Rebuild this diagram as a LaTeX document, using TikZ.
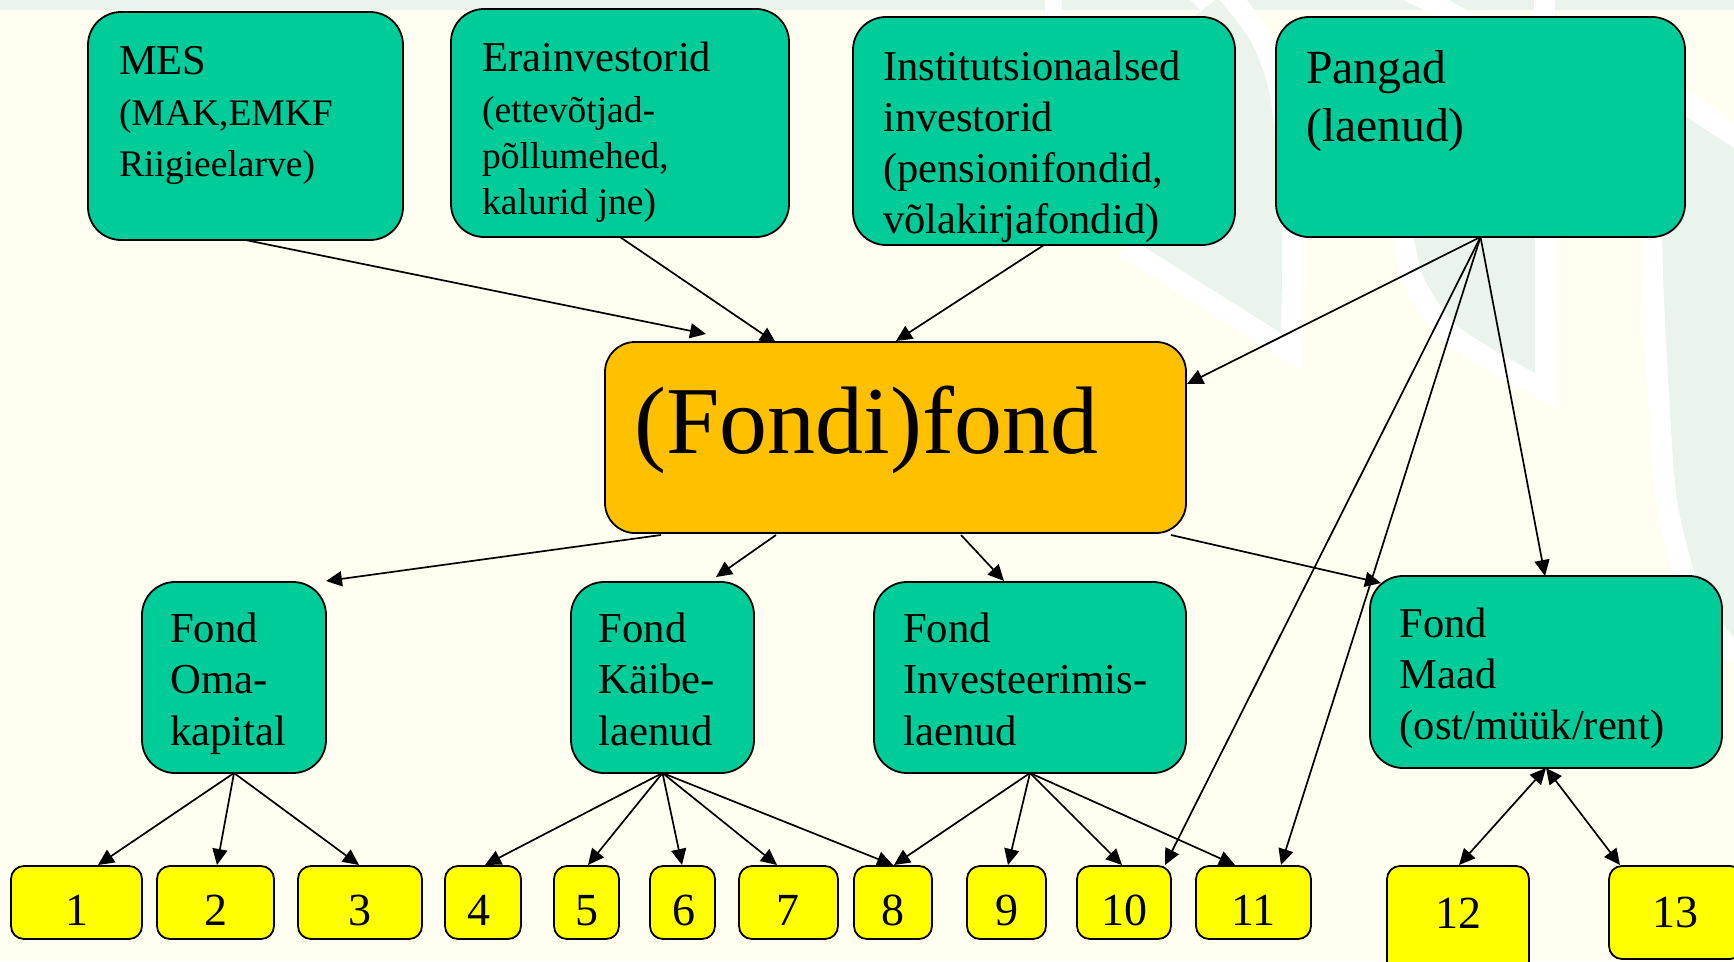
\documentclass[tikz,border=0pt]{standalone}
\usepackage{fontspec}
\setmainfont{Liberation Serif}
\usetikzlibrary{arrows.meta}
\definecolor{bgcream}{HTML}{FFFEF0}
\definecolor{wmgreen}{HTML}{EAF4EC}
\definecolor{boxteal}{HTML}{00CC99}
\definecolor{boxorange}{HTML}{FFC000}
\definecolor{boxyellow}{HTML}{FFFF00}
\newcommand{\fsz}[2]{\fontsize{#1}{#2}\selectfont}
\newcommand{\rl}{\rule{0pt}{0.75em}}
\tikzset{
  base box/.style={draw=black,line width=1.8pt,inner sep=0pt,outer sep=0pt},
  tealbox/.style={base box,fill=boxteal,rounded corners=33pt},
  orangebox/.style={base box,fill=boxorange,rounded corners=30pt},
  yellowbox/.style={base box,fill=boxyellow,rounded corners=13pt,minimum height=73pt,text height=46pt,text depth=0pt,font=\fsz{46}{50}},
  txt/.style={anchor=north west,inner sep=0pt,align=left},
  conn/.style={line width=1.7pt,-{Triangle[length=16pt,width=15pt]}},
  dconn/.style={line width=1.7pt,{Triangle[length=16pt,width=15pt]}-{Triangle[length=16pt,width=15pt]}},
  wmline/.style={draw=white,line width=42pt,line join=miter,miter limit=10},
  wmfill/.style={fill=wmgreen,draw=none}
}
\begin{document}
\begin{tikzpicture}[x=1pt,y=-1pt]
\path[use as bounding box] (0,0) rectangle (1734,961);
\begin{scope}
\clip (0,0) rectangle (1734,961);
% background and watermark
\fill[bgcream] (0,0) rectangle (1734,961);
\fill[wmgreen] (0,0) rectangle (1734,10);
\fill[white] (1045,0) rectangle (1062,17);
\fill[white] (1534,0) rectangle (1555,17);
\fill[white] (1403,0) -- (1449,0) -- (1478,17) -- (1438,17) -- cycle;
% left leaf
\draw[wmline] (1130,238) -- (1281,333) -- plot[smooth] coordinates {(1281,333) (1282,220) (1275,133) (1267,83) (1250,40) (1218,-2)} -- (1200,-20);
\fill[wmfill] (1130,238) -- (1281,333) -- plot[smooth] coordinates {(1281,333) (1282,220) (1275,133) (1267,83) (1250,40) (1218,-2)} -- (1190,20) -- cycle;
% middle leaf
\draw[wmline] (1535,100) -- (1535,373) -- plot[smooth] coordinates {(1535,373) (1459,327) (1425,280) (1414,238) (1408,200)};
\fill[wmfill] (1535,100) -- (1535,373) -- plot[smooth] coordinates {(1535,373) (1459,327) (1425,280) (1414,238) (1408,200)} -- cycle;
% right leaf
\draw[wmline] (1640,83) -- (1760,165);
\draw[wmline] plot[smooth] coordinates {(1660,100) (1662,230) (1664,300) (1671,430) (1677,500) (1690,557) (1705,600) (1745,650)};
\fill[wmfill] (1660,100) -- (1760,165) -- (1760,650) -- plot[smooth] coordinates {(1745,650) (1705,600) (1690,557) (1677,500) (1671,430) (1664,300) (1662,230) (1660,100)} -- cycle;
% top boxes
\node[tealbox,minimum width=315pt,minimum height=228pt] (mes) at (245.5,126) {};
\node[tealbox,minimum width=338pt,minimum height=228pt] (erain) at (620,123) {};
\node[tealbox,minimum width=382pt,minimum height=228pt] (inst) at (1044,131) {};
\node[tealbox,minimum width=409pt,minimum height=220pt] (pangad) at (1480.5,127) {};
\node[txt,font=\fsz{37.5}{51}] (mesT) at (119,42.25) {{\fsz{42.5}{51}\rl MES}\\(MAK,EMKF\\Riigieelarve)};
\node[txt,font=\fsz{37.5}{46}] (erainT) at (482,39.5) {{\fsz{42.5}{46}\rl Erainvestorid}\\[5pt](ettevõtjad-\\põllumehed,\\kalurid jne)};
\node[txt,font=\fsz{42.5}{51}] (instT) at (883,48.5) {\rl Institutsionaalsed\\investorid\\(pensionifondid,\\võlakirjafondid)};
\node[txt,font=\fsz{47.6}{58}] (pangadT) at (1306,48) {\rl Pangad\\(laenud)};
% central box
\node[orangebox,minimum width=581pt,minimum height=191pt] (fond) at (895.5,437.5) {};
\node[txt,font=\fsz{95.9}{100}] (fondT) at (634.5,381.5) {\rl (Fondi)fond};
% fund boxes
\node[tealbox,minimum width=184pt,minimum height=191pt] (oma) at (234,677.5) {};
\node[tealbox,minimum width=183pt,minimum height=191pt] (kaibe) at (662.5,677.5) {};
\node[tealbox,minimum width=312pt,minimum height=191pt] (inv) at (1030,677.5) {};
\node[tealbox,minimum width=352pt,minimum height=192pt] (maad) at (1546,672) {};
\node[txt,font=\fsz{42.7}{51.3}] (omaT) at (170,610.3) {\rl Fond\\Oma-\\kapital};
\node[txt,font=\fsz{42.7}{51.3}] (kaibeT) at (598.5,610.3) {\rl Fond\\Käibe-\\laenud};
\node[txt,font=\fsz{42.7}{51.3}] (invT) at (903,610.3) {\rl Fond\\Investeerimis-\\laenud};
\node[txt,font=\fsz{42.5}{51}] (maadT) at (1399.5,605) {\rl Fond\\Maad\\(ost/müük/rent)};
% yellow boxes
\node[yellowbox,minimum width=131pt] (n1) at (76.5,902.5) {1};
\node[yellowbox,minimum width=117pt] (n2) at (215.5,902.5) {2};
\node[yellowbox,minimum width=124pt] (n3) at (360,902.5) {3};
\node[yellowbox,minimum width=76pt] (n4) at (483,902.5) {\hspace*{-8pt}4};
\node[yellowbox,minimum width=65pt] (n5) at (586.5,902.5) {5};
\node[yellowbox,minimum width=65pt] (n6) at (682.5,902.5) {\hspace*{2pt}6};
\node[yellowbox,minimum width=99pt] (n7) at (788.5,902.5) {\hspace*{-2pt}7};
\node[yellowbox,minimum width=78pt] (n8) at (893,902.5) {8};
\node[yellowbox,minimum width=79pt] (n9) at (1006.5,902.5) {9};
\node[yellowbox,minimum width=94pt] (n10) at (1124,902.5) {10};
\node[yellowbox,minimum width=115pt] (n11) at (1253.5,902.5) {11};
\node[yellowbox,minimum width=142pt,minimum height=134pt,text height=31pt,text depth=41pt] (n12) at (1458,933) {12};
\node[yellowbox,minimum width=134pt,minimum height=93pt,text height=30pt,text depth=0pt] (n13) at (1676,912.5) {\hspace*{-2pt}13};
% named connector ends
\coordinate (fMes) at (706,334);
\coordinate (fErain) at (776,343);
\coordinate (fInst) at (896,341);
\coordinate (fPang) at (1187,384);
\coordinate (fo1) at (661,535);
\coordinate (fo2) at (776,535);
\coordinate (fo3) at (961,535);
\coordinate (fo4) at (1171,535);
\coordinate (omaIn) at (326,581);
\coordinate (kaibeIn) at (716,577);
\coordinate (invIn) at (1004,581);
\coordinate (maadIn) at (1381,583);
\coordinate (maadP) at (1545,576);
\coordinate (t1) at (98,865);
\coordinate (t2) at (217,865);
\coordinate (t3) at (359,865);
\coordinate (t4) at (485,865);
\coordinate (t5) at (588,865);
\coordinate (t6) at (682,865);
\coordinate (t7) at (777,865);
\coordinate (t8a) at (893,865);
\coordinate (t8b) at (894,865);
\coordinate (t9) at (1008,865);
\coordinate (t10a) at (1122,865);
\coordinate (t10b) at (1165,865);
\coordinate (t11a) at (1235,865);
\coordinate (t11b) at (1281,865);
\coordinate (t12) at (1459,865);
\coordinate (t13) at (1620,865);
% connectors
\draw[conn] (mes.south) -- (fMes);
\draw[conn] (erain.south) -- (fErain);
\draw[conn] (inst.south) -- (fInst);
\draw[conn] (pangad.south) -- (fPang);
\draw[conn] (pangad.south) -- (t10b);
\draw[conn] (pangad.south) -- (t11b);
\draw[conn] (pangad.south) -- (maadP);
\draw[conn] (fo1) -- (omaIn);
\draw[conn] (fo2) -- (kaibeIn);
\draw[conn] (fo3) -- (invIn);
\draw[conn] (fo4) -- (maadIn);
\draw[conn] (oma.south) -- (t1);
\draw[conn] (oma.south) -- (t2);
\draw[conn] (oma.south) -- (t3);
\draw[conn] (kaibe.south) -- (t4);
\draw[conn] (kaibe.south) -- (t5);
\draw[conn] (kaibe.south) -- (t6);
\draw[conn] (kaibe.south) -- (t7);
\draw[conn] (kaibe.south) -- (t8a);
\draw[conn] (inv.south) -- (t8b);
\draw[conn] (inv.south) -- (t9);
\draw[conn] (inv.south) -- (t10a);
\draw[conn] (inv.south) -- (t11a);
\draw[dconn] (maad.south) -- (t12);
\draw[dconn] (maad.south) -- (t13);
\end{scope}
\end{tikzpicture}
\end{document}
